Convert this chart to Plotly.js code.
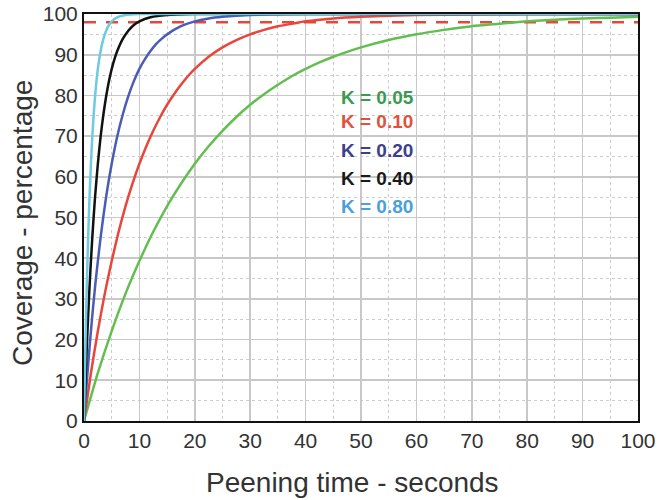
<!DOCTYPE html>
<html>
<head>
<meta charset="utf-8">
<script src="https://cdn.plot.ly/plotly-3.0.1.min.js"></script>
<style>html,body{margin:0;padding:0;background:#fff;}#chart{width:659px;height:500px;}</style>
</head>
<body>
<div id="chart"></div>
<script>
// Values (coverage % vs peening time s)
const k005_t = [0, 2.5, 5, 7.5, 10, 12.5, 15, 17.5, 20, 22.5, 25, 27.5, 30, 32.5, 35, 37.5, 40, 42.5, 45, 47.5, 50, 55, 60, 65, 70, 75, 80, 85, 90, 95, 100];
const k005_c = [0, 11.8, 22.1, 31.3, 39.3, 46.5, 52.8, 58.3, 63.2, 67.5, 71.3, 74.7, 77.7, 80.3, 82.6, 84.7, 86.5, 88.1, 89.5, 90.7, 91.8, 93.6, 95.0, 96.1, 97.0, 97.6, 98.2, 98.6, 98.9, 99.1, 99.3];

const k010_t = [0, 1.25, 2.5, 3.75, 5, 6.25, 7.5, 8.75, 10, 11.25, 12.5, 13.75, 15, 16.25, 17.5, 18.75, 20, 22.5, 25, 27.5, 30, 32.5, 35, 37.5, 40, 45, 50, 60, 70, 80, 100];
const k010_c = [0, 11.8, 22.1, 31.3, 39.3, 46.5, 52.8, 58.3, 63.2, 67.5, 71.3, 74.7, 77.7, 80.3, 82.6, 84.7, 86.5, 89.5, 91.8, 93.6, 95.0, 96.1, 97.0, 97.6, 98.2, 98.9, 99.3, 99.75, 99.9, 99.97, 100];

const k020_t = [0, 0.5, 1, 1.5, 2, 2.5, 3, 3.5, 4, 5, 6, 7, 8, 9, 10, 11, 12, 13, 14, 15, 17.5, 20, 22.5, 25, 30, 40, 100];
const k020_c = [0, 9.5, 18.1, 25.9, 33.0, 39.3, 45.1, 50.3, 55.1, 63.2, 69.9, 75.3, 79.8, 83.5, 86.5, 88.9, 90.9, 92.6, 93.9, 95.0, 97.0, 98.2, 98.9, 99.3, 99.75, 99.97, 100];

const k040_t = [0, 0.25, 0.5, 0.75, 1, 1.25, 1.5, 1.75, 2, 2.5, 3, 3.5, 4, 4.5, 5, 5.5, 6, 7, 8, 9, 10, 12, 15, 20, 100];
const k040_c = [0, 9.5, 18.1, 25.9, 33.0, 39.3, 45.1, 50.3, 55.1, 63.2, 69.9, 75.3, 79.8, 83.5, 86.5, 88.9, 90.9, 93.9, 95.9, 97.3, 98.2, 99.2, 99.75, 99.97, 100];

const k080_t = [0, 0.125, 0.25, 0.375, 0.5, 0.625, 0.75, 0.875, 1, 1.25, 1.5, 1.75, 2, 2.25, 2.5, 2.75, 3, 3.5, 4, 4.5, 5, 6, 7.5, 10, 100];
const k080_c = [0, 9.5, 18.1, 25.9, 33.0, 39.3, 45.1, 50.3, 55.1, 63.2, 69.9, 75.3, 79.8, 83.5, 86.5, 88.9, 90.9, 93.9, 95.9, 97.3, 98.2, 99.2, 99.75, 99.97, 100];

const target_t = [0, 100];
const target_c = [98, 98];

const labels = ["K = 0.05", "K = 0.10", "K = 0.20", "K = 0.40", "K = 0.80"];
const labelY = [79.5, 73.5, 66.5, 59.7, 52.8];
const labelX = 46;

const xTitle = "Peening time - seconds";
const yTitle = "Coverage - percentage";

const lineColors = ["#62bf4f", "#e8463a", "#4a5cb8", "#111111", "#6ccbe0"];
const textColors = ["#3a9a52", "#e0523c", "#3c3f8c", "#1a1a1a", "#4aa0d8"];
const FONT = 'Liberation Sans, Arial, sans-serif';

const series = [
  [k005_t, k005_c], [k010_t, k010_c], [k020_t, k020_c], [k040_t, k040_c], [k080_t, k080_c]
];

const traces = [{
  x: target_t, y: target_c, mode: 'lines', type: 'scatter',
  line: {color: '#e8463a', width: 2.5, dash: '12px,10px'}, hoverinfo: 'skip', cliponaxis: false
}];
series.forEach((s, i) => {
  traces.push({
    x: s[0], y: s[1], mode: 'lines', type: 'scatter',
    line: {color: lineColors[i], width: 2.5, shape: 'spline', smoothing: 0.6},
    cliponaxis: false
  });
});

const annotations = labels.map((t, i) => ({
  x: labelX, y: labelY[i], xref: 'x', yref: 'y', text: '<b>' + t + '</b>',
  showarrow: false, xanchor: 'left', yanchor: 'middle',
  font: {family: FONT, size: 19, color: textColors[i]}
}));
annotations.push({
  text: xTitle, xref: 'paper', yref: 'paper', x: 0.484, y: -0.150,
  xanchor: 'center', yanchor: 'middle', showarrow: false,
  font: {family: FONT, size: 28, color: '#333'}
});
annotations.push({
  text: yTitle, xref: 'paper', yref: 'paper', x: -0.110, y: 0.4865,
  xanchor: 'center', yanchor: 'middle', showarrow: false, textangle: -90,
  font: {family: FONT, size: 28, color: '#333'}
});

const axisCommon = {
  range: [0, 100], dtick: 10, tick0: 0,
  showgrid: true, gridcolor: '#c8c8c8', gridwidth: 1.6,
  minor: {dtick: 5, showgrid: true, gridcolor: '#cccccc', griddash: 'dot', gridwidth: 1},
  showline: true, mirror: true, linecolor: '#111', linewidth: 2,
  zeroline: false, ticks: '',
  tickfont: {family: FONT, size: 21, color: '#333'}
};

const layout = {
  width: 659, height: 500,
  margin: {l: 84, r: 21, t: 14, b: 79},
  paper_bgcolor: '#fff', plot_bgcolor: '#fff',
  showlegend: false,
  xaxis: Object.assign({}, axisCommon),
  yaxis: Object.assign({}, axisCommon),
  annotations: annotations
};

Plotly.newPlot('chart', traces, layout, {displayModeBar: false, staticPlot: true});
</script>
</body>
</html>
